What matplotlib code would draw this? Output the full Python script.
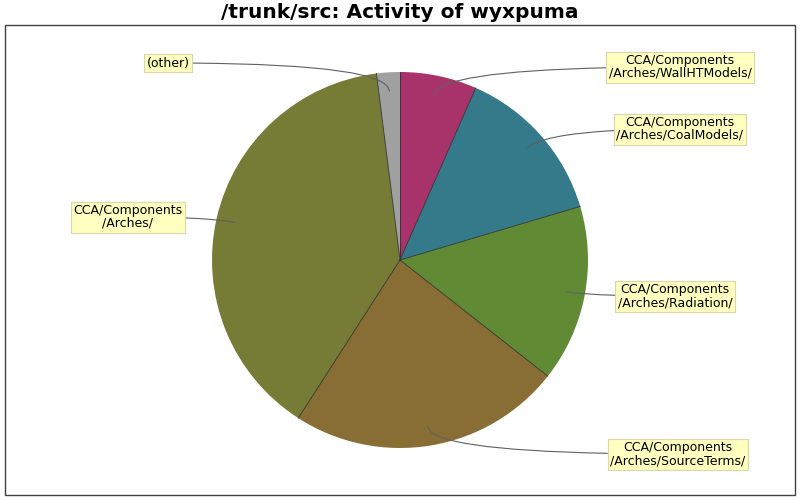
import numpy as np
import matplotlib.pyplot as plt
from matplotlib.patches import Rectangle

labels = ["CCA/Components\n/Arches/WallHTModels/",
          "CCA/Components\n/Arches/CoalModels/",
          "CCA/Components\n/Arches/Radiation/",
          "CCA/Components\n/Arches/SourceTerms/",
          "CCA/Components\n/Arches/",
          "(other)"]
shares = [6.6, 13.8, 15.2, 23.5, 38.9, 2.0]
colors = ["#a8336a", "#347a8a", "#608a34", "#886e34", "#767b35", "#a0a0a0"]

# label box centres in pixel coords (y measured from the top)
label_pos = [(680, 67), (680, 129), (675, 296), (678, 454), (128, 217), (168, 63)]

W, H = 800, 500
fig = plt.figure(figsize=(8, 5), dpi=100)
ax = fig.add_axes([0, 0, 1, 1])

cx, cy, R = 400, H - 260, 188

wedges, _ = ax.pie(shares, colors=colors, startangle=90, counterclock=False,
                   center=(cx, cy), radius=R, frame=True,
                   wedgeprops=dict(edgecolor="none", linewidth=0))
ax.set_xlim(0, W)
ax.set_ylim(0, H)
ax.set_aspect("equal")
ax.axis("off")

# dark separators between slices
for w in wedges:
    t = np.deg2rad(w.theta1)
    ax.plot([cx, cx + R * np.cos(t)], [cy, cy + R * np.sin(t)],
            color="#303030", lw=0.6, zorder=2)

# plot frame
ax.add_patch(Rectangle((5, 5), 790, 470, fill=False, edgecolor="#404040",
                       linewidth=1.0))

fig.text(0.5, 1 - 13 / H, "/trunk/src: Activity of wyxpuma", ha="center",
         va="center", fontsize=14.5, fontweight="bold")

for w, lab, (lx, ly) in zip(wedges, labels, label_pos):
    mid = np.deg2rad((w.theta1 + w.theta2) / 2)
    ax_pt = (cx + 0.9 * R * np.cos(mid), cy + 0.9 * R * np.sin(mid))
    ang = np.rad2deg(mid)
    ax.annotate(lab, xy=ax_pt, xytext=(lx, H - ly), ha="center", va="center",
                fontsize=9, linespacing=1.0, zorder=5,
                bbox=dict(boxstyle="square,pad=0.2", fc="#ffffc0",
                          ec="#d8d8a8", lw=0.8),
                arrowprops=dict(arrowstyle="-", color="#606060", lw=0.8,
                                shrinkA=0, shrinkB=0,
                                connectionstyle=f"angle3,angleA=0,angleB={ang:.1f}"))

fig.savefig("out.png", dpi=100)
